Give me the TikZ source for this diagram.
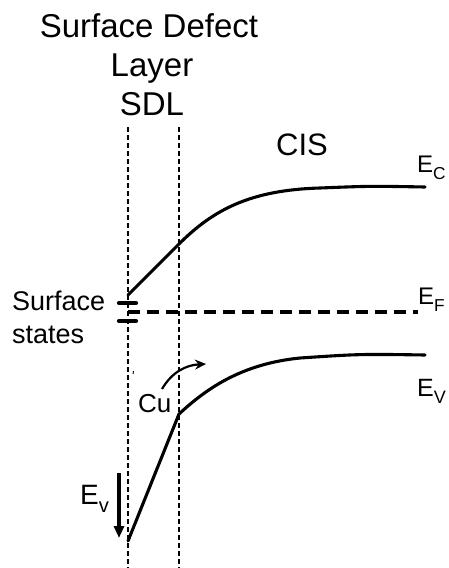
\documentclass[tikz,border=0pt]{standalone}
\usepackage{fontspec}
\setmainfont{Liberation Sans}
\usetikzlibrary{arrows.meta}
\newcommand{\myband}[2]{#1\raisebox{-0.3em}{\scalebox{0.72}{#2}}}
\tikzset{
  guide/.style={line width=1.8pt, dash pattern=on 5pt off 3pt},
  band/.style={line width=3.1pt, line cap=round},
  fermi/.style={line width=3.8pt, dash pattern=on 12pt off 7pt},
  stateline/.style={line width=4.2pt, line cap=round},
  lbl/.style={inner sep=0pt, anchor=base},
}
\begin{document}
\begin{tikzpicture}[x=1pt,y=-1pt]
\useasboundingbox (0,0) rectangle (449,568);
% guides
\coordinate (g1t) at (128,127); \coordinate (g1b) at (128,568);
\coordinate (g2t) at (179,127); \coordinate (g2b) at (179,568);
\draw[guide] (g1t) -- (g1b);
\draw[guide] (g2t) -- (g2b);
% titles
\node[lbl, font=\fontsize{33}{33}\selectfont] (t1) at (149,37) {Surface Defect};
\node[lbl, font=\fontsize{33}{33}\selectfont] (t2) at (152,76) {Layer};
\node[lbl, font=\fontsize{33}{33}\selectfont] (t3) at (152,115) {SDL};
\node[lbl, font=\fontsize{31}{31}\selectfont] (cis) at (302,155) {CIS};
% conduction band
\coordinate (ec0) at (128,295);
\coordinate (ec1) at (179,244);
\coordinate (ec2) at (320,188);
\coordinate (ec3) at (425,187);
\draw[band] (ec0) -- (ec1) .. controls (213,210) and (250,190) .. (ec2) .. controls (370,186) .. (ec3);
% fermi level
\coordinate (ef0) at (128,312);
\coordinate (ef1) at (418,312);
\draw[fermi] (ef0) -- (ef1);
% valence band
\coordinate (ev0) at (128,541);
\coordinate (ev1) at (179,414);
\coordinate (ev2) at (300,358);
\coordinate (ev3) at (425,355);
\draw[band] (ev0) -- (ev1) .. controls (205,390) and (240,364) .. (ev2) .. controls (360,354) .. (ev3);
% surface states
\coordinate (s1a) at (119,303); \coordinate (s1b) at (136,303);
\coordinate (s2a) at (119,321); \coordinate (s2b) at (136,321);
\draw[stateline] (s1a) -- (s1b);
\draw[stateline] (s2a) -- (s2b);
\node[lbl, anchor=base west, font=\fontsize{27}{27}\selectfont] (ss1) at (12,310) {Surface};
\node[lbl, anchor=base west, font=\fontsize{27}{27}\selectfont] (ss2) at (12,343) {states};
% level labels
\node[lbl, anchor=base west, font=\fontsize{24}{24}\selectfont] (lec) at (417,172) {\myband{E}{C}};
\node[lbl, anchor=base west, font=\fontsize{24}{24}\selectfont] (lef) at (418,304) {\myband{E}{F}};
\node[lbl, anchor=base west, font=\fontsize{25}{25}\selectfont] (lev) at (417,396) {\myband{E}{V}};
% Cu
\node[lbl, anchor=base west, font=\fontsize{26}{26}\selectfont] (cu) at (138,412) {Cu};
\coordinate (cua) at (162,389);
\coordinate (cub) at (206,364);
\draw[line width=2.2pt, -{Stealth[length=11pt, width=10pt]}] (cua) .. controls (172,372) and (186,365) .. (cub);
% tiny tick
\coordinate (tk0) at (133.5,371); \coordinate (tk1) at (133,374);
\draw[line width=0.9pt] (tk0) -- (tk1);
% Ev arrow
\coordinate (va) at (119,473);
\coordinate (vb) at (119,538);
\draw[line width=4.2pt, -{Triangle[length=12pt, width=10pt]}] (va) -- (vb);
\node[lbl, anchor=base west, font=\fontsize{28}{28}\selectfont] (lvv) at (80,504) {\myband{E}{v}};
\end{tikzpicture}
\end{document}
